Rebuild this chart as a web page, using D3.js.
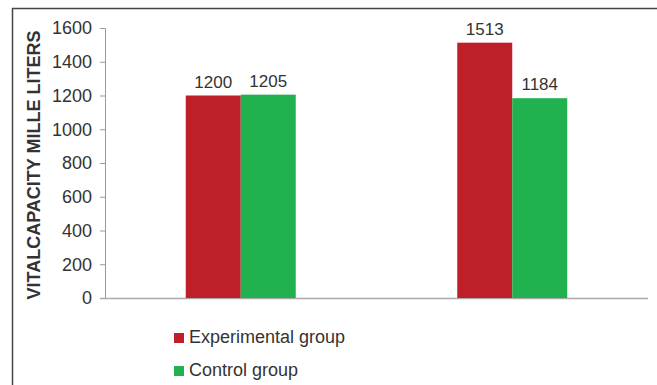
<!DOCTYPE html>
<html lang="en">
<head>
<meta charset="utf-8">
<style type="text/css">
    body { margin: 0; background: #fff; }
    svg text { font-family: "Liberation Sans", Arial, sans-serif; fill: #333; }
</style>
</head>
<body>
<svg width="657" height="385"></svg>

<script src="https://d3js.org/d3.v7.min.js"></script>
<script type="text/javascript">
    // data
    var groups = ["Pre", "Post"];
    var seriesNames = ["Experimental group", "Control group"];
    var experimental = [1200, 1513];
    var control = [1205, 1184];
    var yTicks = [0, 200, 400, 600, 800, 1000, 1200, 1400, 1600];
    var colors = ["#BF1F28", "#21B24F"];

    var svg = d3.select("svg"),
        width = +svg.attr("width"),
        height = +svg.attr("height");

    var margin = {top: 28, right: 9, bottom: 87, left: 105};

    // outer frame (top and left edges only visible)
    svg.append("path")
        .attr("d", "M12.5," + height + " L12.5,8.5 L" + width + ",8.5")
        .attr("fill", "none")
        .attr("stroke", "#444")
        .attr("stroke-width", 1.5);

    var x0 = d3.scaleBand()
        .domain(groups)
        .range([margin.left, width - margin.right])
        .paddingInner(0)
        .paddingOuter(0);

    var x1 = d3.scaleBand()
        .domain(seriesNames)
        .range([0, 110]);

    var y = d3.scaleLinear()
        .domain([0, 1600])
        .range([height - margin.bottom, margin.top]);

    // y axis
    var yAxis = svg.append("g")
        .attr("transform", "translate(" + margin.left + ",0)")
        .call(d3.axisLeft(y).tickValues(yTicks).tickFormat(d3.format("d"))
            .tickSizeOuter(0).tickSize(5).tickPadding(8));
    yAxis.select(".domain").attr("stroke", "#999");
    yAxis.selectAll(".tick line").attr("stroke", "#999");
    yAxis.selectAll(".tick text")
        .style("font-size", "18px")
        .style("font-family", "'Liberation Sans', Arial, sans-serif")
        .attr("fill", "#333");

    // baseline
    svg.append("line")
        .attr("x1", margin.left - 5)
        .attr("x2", width - margin.right)
        .attr("y1", y(0) + 0.5)
        .attr("y2", y(0) + 0.5)
        .attr("stroke", "#aaa")
        .attr("stroke-width", 1.5);

    var rows = groups.map(function (g, i) {
        return [
            {group: g, name: seriesNames[0], value: experimental[i], color: colors[0]},
            {group: g, name: seriesNames[1], value: control[i], color: colors[1]}
        ];
    });

    var gGroup = svg.selectAll(".grp")
        .data(rows)
        .enter()
        .append("g")
        .attr("class", "grp")
        .attr("transform", function (d, i) {
            return "translate(" + (x0(groups[i]) + x0.bandwidth() / 2 - 55) + ",0)";
        });

    gGroup.selectAll("rect")
        .data(function (d) { return d; })
        .enter()
        .append("rect")
        .attr("x", function (d) { return x1(d.name); })
        .attr("y", function (d) { return y(d.value); })
        .attr("width", x1.bandwidth())
        .attr("height", function (d) { return y(0) - y(d.value); })
        .attr("fill", function (d) { return d.color; });

    gGroup.selectAll(".lbl")
        .data(function (d) { return d; })
        .enter()
        .append("text")
        .attr("class", "lbl")
        .attr("x", function (d) { return x1(d.name) + x1.bandwidth() / 2; })
        .attr("y", function (d) { return y(d.value) - 8; })
        .attr("text-anchor", "middle")
        .style("font-size", "17px")
        .text(function (d) { return d.value; });

    // y axis title
    svg.append("text")
        .attr("transform", "translate(39.5," + 165 + ") rotate(-90)")
        .attr("text-anchor", "middle")
        .style("font-size", "18px")
        .style("font-weight", "bold")
        .attr("fill", "#222")
        .text("VITALCAPACITY MILLE LITERS");

    // legend
    var legend = svg.selectAll(".legend")
        .data(seriesNames)
        .enter()
        .append("g")
        .attr("class", "legend")
        .attr("transform", function (d, i) { return "translate(174," + (333 + i * 33) + ")"; });

    legend.append("rect")
        .attr("width", 10)
        .attr("height", 10)
        .attr("fill", function (d, i) { return colors[i]; });

    legend.append("text")
        .attr("x", 15)
        .attr("y", 10)
        .style("font-size", "18px")
        .text(function (d) { return d; });
</script>
</body>
</html>
